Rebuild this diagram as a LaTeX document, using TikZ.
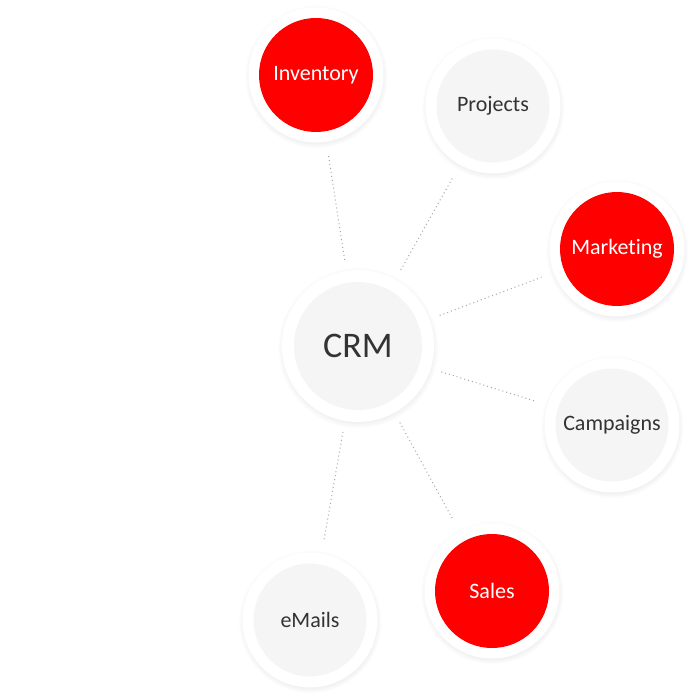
\documentclass[tikz,border=0pt]{standalone}
\usepackage{fontspec}
\setmainfont{Carlito}[Ligatures=NoCommon]
\usetikzlibrary{shadows}
\definecolor{ringred}{HTML}{FF0000}
\definecolor{coregrey}{HTML}{F5F5F5}
\definecolor{textgrey}{HTML}{333333}
\tikzset{
	ring/.style={circle, fill=white, inner sep=0pt, minimum size=135pt,
		circular drop shadow={shadow xshift=0pt, shadow yshift=-1.5pt, shadow scale=1.06, fill=black, opacity=.10}},
	redcore/.style={circle, fill=ringred, text=white, inner sep=0pt, minimum size=114pt, font=\fontsize{22}{26}\selectfont},
	greycore/.style={circle, fill=coregrey, text=textgrey, inner sep=0pt, minimum size=113pt, font=\fontsize{22}{26}\selectfont},
	link/.style={draw=gray!70, line width=1pt, dash pattern=on 1pt off 3pt, shorten <=11pt, shorten >=13pt}
}
\begin{document}
\begin{tikzpicture}[x=1pt,y=-1pt]
		\useasboundingbox[fill=white] (0,0) rectangle (695,700);
		
		% centro
		\node[ring, minimum size=152pt] (crm) at (358,346) {};
		\node[greycore, minimum size=128pt, font=\fontsize{36}{40}\selectfont] (crmtext) at (crm) {CRM};
		
		% anillos de alrededor
		\node[ring] (inventory) at (316,75) {};
		\node[ring] (projects) at (493,106) {};
		\node[ring] (marketing) at (617,249) {};
		\node[ring] (campaigns) at (612,425) {};
		\node[ring] (sales) at (492,591) {};
		\node[ring] (emails) at (310,620) {};
		
		\node[redcore] at (inventory) {Inventory};
		\node[greycore] at (projects) {Projects};
		\node[redcore] at (marketing) {Marketing};
		\node[greycore] at (campaigns) {Campaigns};
		\node[redcore] at (sales) {Sales};
		\node[greycore] at (emails) {eMails};
		
		% enlaces punteados
		\draw[link] (crm) -- (inventory);
		\draw[link] (crm) -- (projects);
		\draw[link] (crm) -- (marketing);
		\draw[link] (crm) -- (campaigns);
		\draw[link] (crm) -- (sales);
		\draw[link] (crm) -- (emails);
	\end{tikzpicture}
\end{document}
